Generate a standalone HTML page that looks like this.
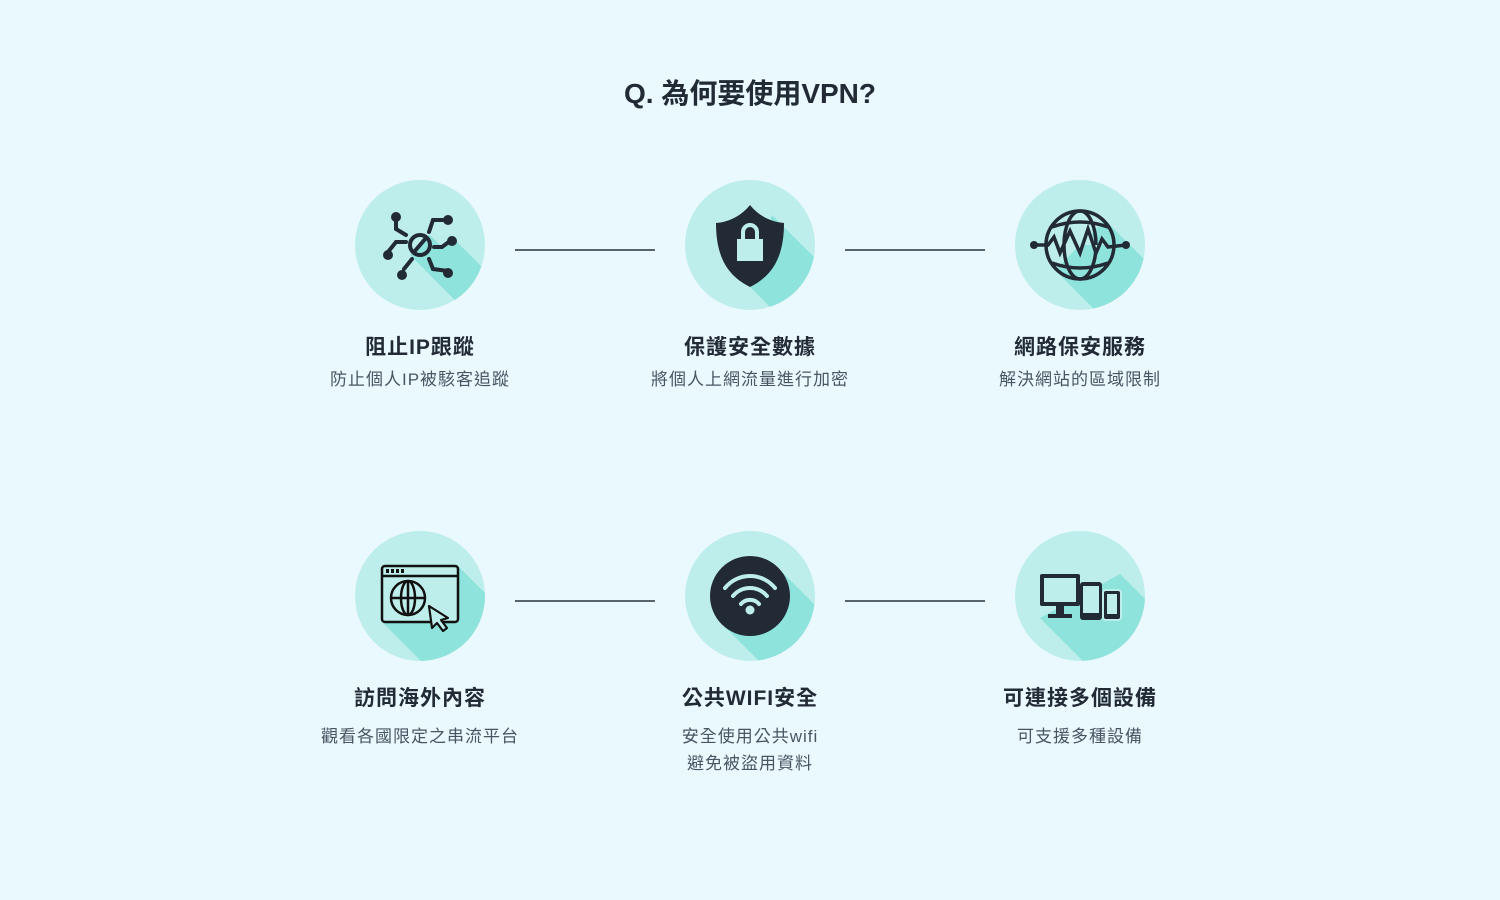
<!DOCTYPE html>
<html><head><meta charset="utf-8"><style>
html,body{margin:0;padding:0;background:#eaf9fe;}
body{width:1500px;height:900px;overflow:hidden;font-family:"Liberation Sans","Noto Sans CJK TC",sans-serif;}
</style></head><body>
<svg width="1500" height="900" viewBox="0 0 1500 900" xmlns="http://www.w3.org/2000/svg" style="display:block">
<defs><clipPath id="c"><circle cx="0" cy="0" r="65"/></clipPath></defs>
<rect width="1500" height="900" fill="#eaf9fe"/>
<text x="750" y="103" text-anchor="middle" font-size="28" font-weight="bold" fill="#222a35" font-family="Liberation Sans,Noto Sans CJK TC,sans-serif">Q. 為何要使用VPN?</text>
<g stroke="#2a323d" stroke-width="1.6">
<line x1="515" y1="250" x2="655" y2="250"/><line x1="845" y1="250" x2="985" y2="250"/>
<line x1="515" y1="601" x2="655" y2="601"/><line x1="845" y1="601" x2="985" y2="601"/>
</g>
<g font-family="Liberation Sans,Noto Sans CJK TC,sans-serif" text-anchor="middle" letter-spacing="1">
<g font-size="21" font-weight="bold" fill="#222a35">
<text x="420" y="354">阻止IP跟蹤</text><text x="750" y="354">保護安全數據</text><text x="1080" y="354">網路保安服務</text>
<text x="420" y="705">訪問海外內容</text><text x="750" y="705">公共WIFI安全</text><text x="1080" y="705">可連接多個設備</text>
</g>
<g font-size="17" fill="#4a5563">
<text x="420" y="385">防止個人IP被駭客追蹤</text><text x="750" y="385">將個人上網流量進行加密</text><text x="1080" y="385">解決網站的區域限制</text>
<text x="420" y="742">觀看各國限定之串流平台</text><text x="750" y="742">安全使用公共wifi</text><text x="750" y="769">避免被盜用資料</text><text x="1080" y="742">可支援多種設備</text>
</g></g>

<!-- 1 -->
<g transform="translate(420,245)">
<circle r="65" fill="#bdeeeb"/>
<polygon clip-path="url(#c)" points="10,-10 -10,10 90,110 110,90" fill="#8ee3dc"/>
<polygon clip-path="url(#c)" points="30,-10 10,30 110,130 130,90" fill="#8ee3dc"/>
<g stroke="#222a35" stroke-width="4" fill="none" stroke-linecap="round">
<circle cx="0" cy="0" r="10"/><line x1="-6" y1="7" x2="6" y2="-7"/>
<polyline points="-24,-28 -24,-16 -14,-10"/><polyline points="9,-13 13,-25 28,-25"/>
<polyline points="14,2 22,2 30,-4"/><polyline points="-14,-3 -24,-3 -32,7"/>
<polyline points="-8,14 -16,24"/><polyline points="9,14 13,24 28,26"/>
</g>
<g fill="#222a35"><circle cx="-24" cy="-28" r="5"/><circle cx="28" cy="-25" r="5"/><circle cx="32" cy="-4" r="5"/><circle cx="-32" cy="10" r="5"/><circle cx="-18" cy="30" r="5"/><circle cx="28" cy="28" r="5"/></g>
</g>
<!-- 2 -->
<g transform="translate(750,245)">
<circle r="65" fill="#bdeeeb"/>
<polygon clip-path="url(#c)" points="22,-30 0,42 100,142 122,70" fill="#8ee3dc"/>
<path d="M0,-40 C-8,-30 -20,-23 -34,-22 C-34,10 -24,30 0,42 C24,30 34,10 34,-22 C20,-23 8,-30 0,-40Z" fill="#222a35"/>
<rect x="-13" y="-6" width="26" height="22" fill="#bdeeeb"/>
<path d="M-7,-6 V-13 A7,7 0 0 1 7,-13 V-6" stroke="#bdeeeb" stroke-width="4" fill="none"/>
</g>
<!-- 3 -->
<g transform="translate(1080,245)">
<circle r="65" fill="#bdeeeb"/>
<polygon clip-path="url(#c)" points="25,-25 -25,25 75,125 125,75" fill="#8ee3dc"/>
<g stroke="#222a35" stroke-width="3.5" fill="none">
<circle r="34" /><ellipse rx="16" ry="34"/><path d="M-28,-18 Q0,-28 28,-18 M-28,18 Q0,28 28,18"/>
<polyline points="-46,0 -32,0 -26,-8 -20,8 -10,-14 0,8 8,-16 16,8 22,-6 28,2 46,0" stroke-linejoin="miter" fill="#bdeeeb"/>
</g>
<circle cx="-46" cy="0" r="4" fill="#222a35"/><circle cx="46" cy="0" r="4" fill="#222a35"/>
</g>
<!-- 4 -->
<g transform="translate(420,596)">
<circle r="65" fill="#bdeeeb"/>
<polygon clip-path="url(#c)" points="38,-30 -38,26 62,126 138,70" fill="#8ee3dc"/>
<g stroke="#111" stroke-width="2.5" fill="#bdeeeb">
<rect x="-38" y="-30" width="76" height="56" rx="3"/>
<line x1="-38" y1="-20" x2="38" y2="-20"/>
</g>
<g fill="#111"><rect x="-34" y="-27" width="3" height="4"/><rect x="-29" y="-27" width="3" height="4"/><rect x="-24" y="-27" width="3" height="4"/><rect x="-19" y="-27" width="3" height="4"/></g>
<g stroke="#111" stroke-width="2.5" fill="none"><circle cx="-12" cy="2" r="17"/><ellipse cx="-12" cy="2" rx="7" ry="17"/><line x1="-29" y1="2" x2="5" y2="2"/><line x1="-12" y1="-15" x2="-12" y2="19"/></g>
<path d="M9,10 L28,22 L21,24 L27,32 L23,35 L17,27 L12,32Z" fill="#bdeeeb" stroke="#111" stroke-width="2.2" stroke-linejoin="round"/>
</g>
<!-- 5 -->
<g transform="translate(750,596)">
<circle r="65" fill="#bdeeeb"/>
<polygon clip-path="url(#c)" points="28,-28 -28,28 72,128 128,72" fill="#8ee3dc"/>
<circle r="40" fill="#222a35"/>
<g stroke="#bdeeeb" stroke-width="4" fill="none" stroke-linecap="round">
<path d="M-25,-8 A32,32 0 0 1 25,-8"/><path d="M-17,0 A22,22 0 0 1 17,0"/><path d="M-9,8 A12,12 0 0 1 9,8"/>
</g>
<circle cx="0" cy="14" r="4.5" fill="#bdeeeb"/>
</g>
<!-- 6 -->
<g transform="translate(1080,596)">
<circle r="65" fill="#bdeeeb"/>
<polygon clip-path="url(#c)" points="40,-22 -40,22 60,122 140,78" fill="#8ee3dc"/>
<rect x="-40" y="-22" width="40" height="32" rx="2" fill="#222a35"/>
<rect x="-36" y="-18" width="32" height="24" fill="#bdeeeb"/>
<rect x="-24" y="10" width="8" height="8" fill="#222a35"/><rect x="-32" y="18" width="24" height="4" fill="#222a35"/>
<rect x="0" y="-14" width="22" height="38" rx="3" fill="#222a35"/><rect x="3" y="-10" width="16" height="27" fill="#bdeeeb"/>
<rect x="23" y="-6" width="18" height="30" rx="3" fill="#222a35" stroke="#bdeeeb" stroke-width="2"/><rect x="27" y="-2" width="10" height="20" fill="#bdeeeb"/>
</g>
</svg>
</body></html>
